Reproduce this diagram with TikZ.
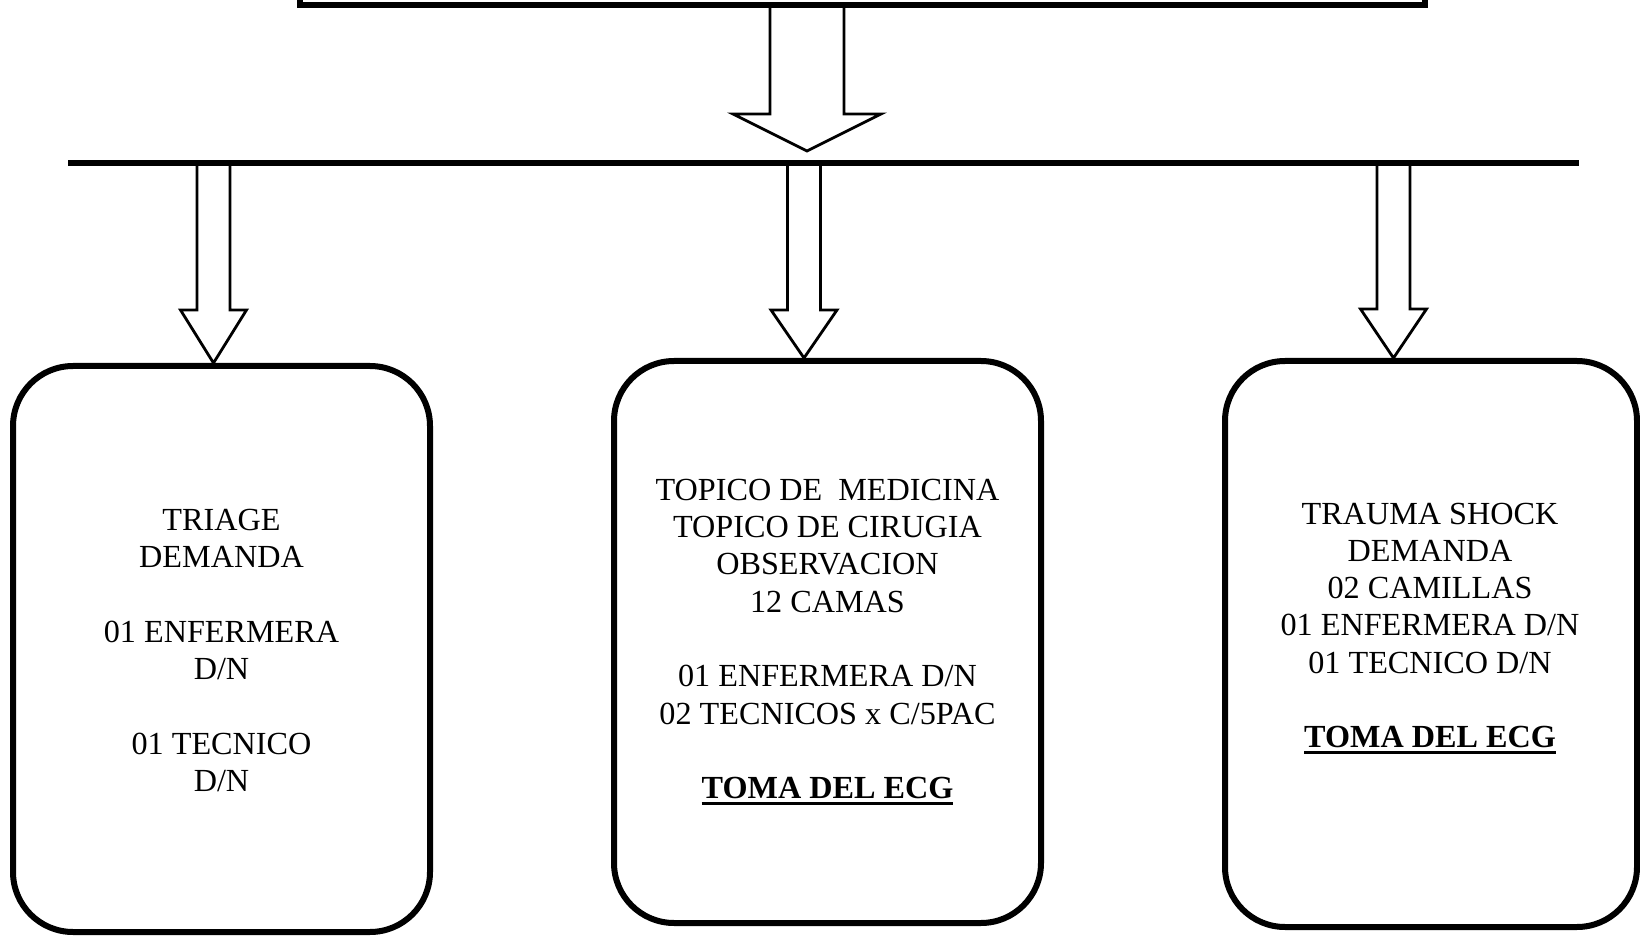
\documentclass[tikz,border=0pt]{standalone}
\usepackage{fontspec}
\setmainfont{Liberation Serif}
\usetikzlibrary{calc}
\newcommand\myul[1]{\setbox0=\hbox{#1}\rlap{\rule[-3.2pt]{\wd0}{1.4pt}}\box0}
% #1 start, #2 tip, #3 half shaft width, #4 half head width, #5 head length
\newcommand\blockarrow[5]{%
  \draw[blockline] let \p1=(#1), \p2=(#2) in
    (\x2-#3,\y1) -- (\x2-#3,\y2+#5) -- (\x2-#4,\y2+#5) -- (\x2,\y2)
    -- (\x2+#4,\y2+#5) -- (\x2+#3,\y2+#5) -- (\x2+#3,\y1);}
\tikzset{
  boxstyle/.style={draw, line width=3pt, rounded corners=30pt, inner sep=0pt},
  txt/.style={align=center, font=\fontsize{16.1}{18.65}\selectfont, inner sep=0pt},
  barline/.style={line width=3pt},
  blockline/.style={line width=1.4pt, line join=miter},
}
\begin{document}
\begin{tikzpicture}[x=0.5pt,y=-0.5pt]
\useasboundingbox (0,0) rectangle (1640,936);
\clip (0,0) rectangle (1640,936);
% top box (cut by the page)
\node[draw, line width=3.2pt, minimum width=562.5pt, minimum height=52.5pt, inner sep=0pt] (top) at (862.5,-47.5) {};
% distribution bar
\coordinate (barL) at (68,163);
\coordinate (barR) at (1579,163);
\draw[barline] (barL) -- (barR);
\coordinate (tipT) at (807,151);
\coordinate (b1) at (213.5,163);
\coordinate (b2) at (804,163);
\coordinate (b3) at (1393.5,163);
% boxes
\node[boxstyle, minimum width=208.5pt, minimum height=283pt] (box1) at (221.5,649) {};
\node[boxstyle, minimum width=213.5pt, minimum height=281pt] (box2) at (827.5,642) {};
\node[boxstyle, minimum width=206pt, minimum height=283pt] (box3) at (1431,644) {};
% texts
\node[txt] (t1) at (221.5,650.5) {TRIAGE\\DEMANDA\\[18.65pt]01 ENFERMERA\\D/N\\[18.65pt]01 TECNICO\\D/N};
\node[txt] (t2) at (827.5,642) {TOPICO DE\ \ MEDICINA\\TOPICO DE CIRUGIA\\OBSERVACION\\12 CAMAS\\[18.65pt]01 ENFERMERA D/N\\02 TECNICOS x C/5PAC\\[18.65pt]\myul{\textbf{TOMA DEL ECG}}};
\node[txt] (t3) at (1430,628.5) {TRAUMA SHOCK\\DEMANDA\\02 CAMILLAS\\01 ENFERMERA D/N\\01 TECNICO D/N\\[18.65pt]\myul{\textbf{TOMA DEL ECG}}};
% block arrows
\blockarrow{top.south}{tipT}{18.5pt}{37pt}{18.5pt}
\blockarrow{b1}{b1 |- box1.north}{8.25pt}{16.5pt}{26.5pt}
\blockarrow{b2}{b2 |- box2.north}{8.25pt}{16.5pt}{24pt}
\blockarrow{b3}{b3 |- box3.north}{8.25pt}{16.5pt}{24.5pt}
\end{tikzpicture}
\end{document}
